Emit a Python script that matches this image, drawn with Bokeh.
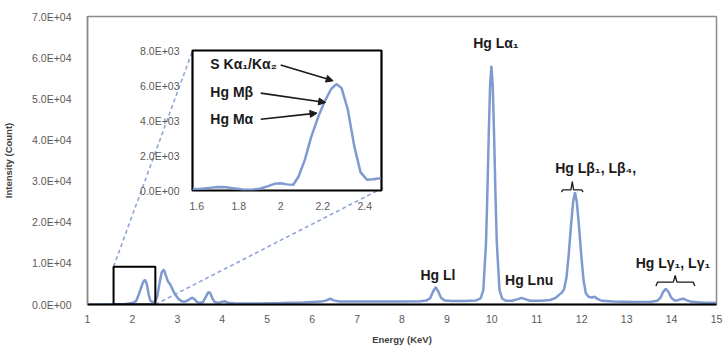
from bokeh.plotting import figure
from bokeh.models import (Range1d, FixedTicker, Label, Arrow, NormalHead,
                          BoxAnnotation, ColumnDataSource)
from bokeh.embed import file_html
from bokeh.resources import INLINE

# ---------------- data ----------------
energy = [1.00, 1.30, 1.60, 1.80, 2.00, 2.08, 2.14, 2.19, 2.24, 2.28, 2.32, 2.36, 2.40,
          2.45, 2.50, 2.55, 2.60, 2.65, 2.70, 2.74, 2.79, 2.84, 2.90, 2.96, 3.03, 3.11,
          3.18, 3.25, 3.32, 3.38, 3.44, 3.50, 3.57, 3.63, 3.69, 3.73, 3.78, 3.83, 3.92,
          4.00, 4.05, 4.12, 4.30, 4.80, 5.30, 5.80, 6.20, 6.32, 6.40, 6.48, 6.60, 7.00,
          7.50, 8.00, 8.40, 8.55, 8.63, 8.69, 8.75, 8.81, 8.87, 8.95, 9.10, 9.40, 9.65,
          9.75, 9.81, 9.87, 9.90, 9.93, 9.96, 9.99, 10.02, 10.05, 10.08, 10.11, 10.17,
          10.23, 10.32, 10.45, 10.58, 10.66, 10.74, 10.85, 11.10, 11.30, 11.42, 11.50,
          11.56, 11.61, 11.66, 11.71, 11.76, 11.81, 11.85, 11.89, 11.94, 11.99, 12.04,
          12.09, 12.15, 12.22, 12.29, 12.36, 12.45, 12.70, 13.20, 13.55, 13.68, 13.75,
          13.81, 13.87, 13.93, 13.99, 14.06, 14.13, 14.20, 14.27, 14.34, 14.45, 14.70,
          15.00]
counts = [0, 0, 50, 80, 350, 800, 2400, 4000, 5500, 6000, 5000, 2500, 900,
          600, 700, 1800, 5000, 7800, 8500, 7200, 5600, 4900, 3500, 2300, 1300, 700,
          700, 1100, 1650, 1300, 600, 350, 600, 1800, 3000, 2800, 1500, 600, 400,
          700, 800, 450, 250, 250, 350, 500, 700, 1000, 1400, 1000, 750, 700,
          700, 750, 800, 1000, 1600, 3100, 4200, 3100, 1600, 1000, 850, 850, 1000,
          1500, 3500, 15000, 27000, 41000, 53000, 58000, 53000, 41000, 27000, 15000, 3500,
          1400, 900, 900, 1300, 1600, 1300, 900, 900, 1100, 1600, 2400,
          2900, 3800, 6500, 12000, 19000, 25000, 27300, 25000, 19000, 12000, 6000,
          2800, 1900, 1700, 1900, 1300, 900, 700, 600, 650, 900, 1600,
          3000, 3800, 3100, 1700, 1000, 1000, 1300, 1400, 1000, 650, 450,
          400]

inset_energy = [1.58, 1.62, 1.66, 1.70, 1.74, 1.78, 1.82, 1.86, 1.90, 1.94, 1.97, 2.00,
                2.03, 2.06, 2.085, 2.115, 2.145, 2.18, 2.21, 2.24, 2.265, 2.29, 2.32,
                2.35, 2.38, 2.41, 2.44, 2.475]
inset_counts = [80, 100, 150, 200, 180, 120, 60, 50, 100, 250, 380, 420,
                350, 330, 800, 1750, 3050, 4250, 5100, 5800, 6080, 5850, 4600,
                2550, 1050, 620, 640, 700]

x_ticks = [1, 2, 3, 4, 5, 6, 7, 8, 9, 10, 11, 12, 13, 14, 15]
x_tick_labels = ["1", "2", "3", "4", "5", "6", "7", "8", "9", "10", "11", "12", "13", "14", "15"]
y_ticks = [0, 10000, 20000, 30000, 40000, 50000, 60000, 70000]
y_tick_labels = ["0.0E+00", "1.0E+04", "2.0E+04", "3.0E+04", "4.0E+04", "5.0E+04",
                 "6.0E+04", "7.0E+04"]
inset_x_ticks = [1.6, 1.8, 2.0, 2.2, 2.4]
inset_x_tick_labels = ["1.6", "1.8", "2", "2.2", "2.4"]
inset_y_ticks = [0, 2000, 4000, 6000, 8000]
inset_y_tick_labels = ["0.0E+00", "2.0E+03", "4.0E+03", "6.0E+03", "8.0E+03"]

peak_labels = ["Hg L\u03b1\u2081", "Hg Ll", "Hg Lnu", "Hg L\u03b2\u2081, L\u03b2\u2084,",
               "Hg L\u03b3\u2081, L\u03b3\u2081"]
peak_label_x = [10.09, 8.80, 10.83, 12.31, 14.03]
peak_label_y = [63600, 7200, 5840, 33100, 10060]

inset_labels = ["S K\u03b1\u2081/K\u03b1\u2082", "Hg M\u03b2", "Hg M\u03b1"]
inset_label_x = [1.665, 1.665, 1.665]
inset_label_y = [7250, 5640, 4090]
arrow_x0 = [2.00, 1.905, 1.905]
arrow_y0 = [7175, 5565, 4070]
arrow_x1 = [2.25, 2.214, 2.173]
arrow_y1 = [6270, 5030, 4420]

FONT = "Liberation Sans"
LINE = "#7f9ad0"
GREY = "#595959"

# page geometry (px); Bokeh's page template has no body margin
MAIN_W, MAIN_H = 724, 347
FL, FR, FT, FB = 83, 716, 16, 309
IL, IR, IT, IB = 189, 381, 50, 190
INS_BL, INS_BR, INS_BT, INS_BB = 52, 4, 8, 22
X0, X1, Y0, Y1 = 1, 15, 0, 70000


def px_to_x(px):
    return X0 + (px - FL) / (FR - FL) * (X1 - X0)


def py_to_y(py):
    return Y0 + (FB - py) / (FB - FT) * (Y1 - Y0)


# ---------------- main figure ----------------
p = figure(width=MAIN_W, height=MAIN_H, x_range=Range1d(X0, X1), y_range=Range1d(Y0, Y1),
           output_backend="svg", toolbar_location=None,
           min_border_left=FL, min_border_right=MAIN_W - FR,
           min_border_top=FT, min_border_bottom=MAIN_H - FB)
p.grid.visible = False
p.outline_line_color = "#8c8c8c"
p.outline_line_width = 1.5
p.background_fill_color = "white"
p.border_fill_color = "white"

p.xaxis.ticker = FixedTicker(ticks=x_ticks)
p.xaxis.major_label_overrides = {t: l for t, l in zip(x_ticks, x_tick_labels)}
p.yaxis.ticker = FixedTicker(ticks=y_ticks)
p.yaxis.major_label_overrides = {t: l for t, l in zip(y_ticks, y_tick_labels)}
for ax in (p.xaxis, p.yaxis):
    ax.major_tick_line_color = None
    ax.minor_tick_line_color = None
    ax.major_label_text_font = FONT
    ax.major_label_text_font_size = "10.5px"
    ax.major_label_text_color = GREY
    ax.axis_label_text_font = FONT
    ax.axis_label_text_font_style = "bold"
    ax.axis_label_text_font_size = "9.5px"
    ax.axis_label_text_color = "#404040"
p.xaxis.axis_line_color = "black"
p.xaxis.axis_line_width = 2
p.yaxis.axis_line_color = "#8c8c8c"
p.yaxis.axis_line_width = 1.5
p.xaxis.major_label_standoff = 4
p.yaxis.major_label_standoff = 10
p.xaxis.axis_label = "Energy (KeV)"
p.yaxis.axis_label = "Intensity (Count)"
p.xaxis.axis_label_standoff = 8
p.yaxis.axis_label_standoff = 15

# connector dashed lines (zoom box corners -> inset frame corners)
conn = ColumnDataSource(dict(x0=[1.58, 2.51], y0=[9200, 0],
                             x1=[px_to_x(IL), px_to_x(IR)], y1=[py_to_y(IT), py_to_y(IB)]))
p.segment("x0", "y0", "x1", "y1", source=conn, line_color="#8ea6d8",
          line_width=1.6, line_dash="4 3")

p.line(energy, counts, line_color=LINE, line_width=2.5)

p.add_layout(BoxAnnotation(left=1.58, right=2.51, bottom=0, top=9200,
                           fill_alpha=0, line_color="black", line_alpha=1, line_width=2))

for t, x, y in zip(peak_labels, peak_label_x, peak_label_y):
    p.add_layout(Label(x=x, y=y, text=t, text_font=FONT, text_font_style="bold",
                       text_font_size="14px", text_align="center",
                       text_baseline="middle", text_color="#1a1a1a"))

# curly brackets
p.line([11.55, 11.58, 11.76, 11.79, 11.82, 12.00, 12.03],
       [27300, 27860, 27860, 29900, 27860, 27860, 27300], line_color="#1a1a1a", line_width=1.3)
p.line([13.65, 13.69, 14.04, 14.08, 14.12, 14.48, 14.52],
       [4480, 5440, 5440, 7040, 5440, 5440, 4480], line_color="#1a1a1a", line_width=1.3)

# ---------------- inset ----------------
ins_w = INS_BL + (IR - IL) + INS_BR
ins_h = INS_BT + (IB - IT) + INS_BB
ins = figure(width=ins_w, height=ins_h, x_range=Range1d(1.58, 2.48), y_range=Range1d(0, 8000),
             output_backend="svg", toolbar_location=None,
             min_border_left=INS_BL, min_border_right=INS_BR,
             min_border_top=INS_BT, min_border_bottom=INS_BB,
             styles={"position": "absolute", "left": f"{IL - INS_BL}px",
                     "top": f"{IT - INS_BT}px", "z-index": "10"})
ins.grid.visible = False
ins.outline_line_color = "black"
ins.outline_line_width = 2.2
ins.background_fill_color = "white"
ins.border_fill_alpha = 0
ins.xaxis.ticker = FixedTicker(ticks=inset_x_ticks)
ins.xaxis.major_label_overrides = {t: l for t, l in zip(inset_x_ticks, inset_x_tick_labels)}
ins.yaxis.ticker = FixedTicker(ticks=inset_y_ticks)
ins.yaxis.major_label_overrides = {t: l for t, l in zip(inset_y_ticks, inset_y_tick_labels)}
for ax in (ins.xaxis, ins.yaxis):
    ax.major_tick_line_color = None
    ax.minor_tick_line_color = None
    ax.axis_line_color = None
    ax.major_label_text_font = FONT
    ax.major_label_text_font_size = "10.5px"
    ax.major_label_text_color = GREY
ins.xaxis.major_label_standoff = 5
ins.yaxis.major_label_standoff = 7

ins.line(inset_energy, inset_counts, line_color=LINE, line_width=2.5)

for t, x, y in zip(inset_labels, inset_label_x, inset_label_y):
    ins.add_layout(Label(x=x, y=y, text=t, text_font=FONT, text_font_style="bold",
                         text_font_size="14px", text_align="left",
                         text_baseline="middle", text_color="#1a1a1a"))
for xa, ya, xb, yb in zip(arrow_x0, arrow_y0, arrow_x1, arrow_y1):
    ins.add_layout(Arrow(end=NormalHead(size=7, fill_color="#1a1a1a", line_color="#1a1a1a"),
                         x_start=xa, y_start=ya, x_end=xb, y_end=yb,
                         line_color="#1a1a1a", line_width=1.6))

open("out.html", "w").write(file_html([p, ins], INLINE))
